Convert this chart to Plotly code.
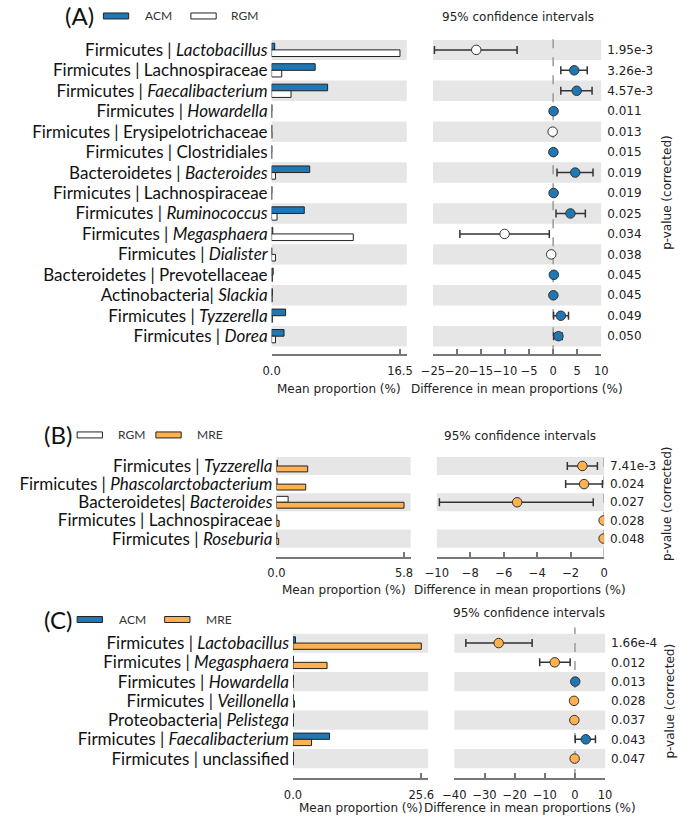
import plotly.graph_objects as go
from typing import List, Dict

W, H = 685, 817

ACM_COLOR = '#1f77b4'
RGM_COLOR = 'white'
MRE_COLOR = '#ffb04f'
BAND_COLOR = '#e6e6e6'
AXIS_COLOR = '#777777'
NUM_FONT = 'DejaVu Sans'
LABEL_FONT = 'Lato'

# ---- panel A: ACM vs RGM ----
A_labels = [
    "Firmicutes | <i>Lactobacillus</i>",
    "Firmicutes | Lachnospiraceae",
    "Firmicutes | <i>Faecalibacterium</i>",
    "Firmicutes | <i>Howardella</i>",
    "Firmicutes | Erysipelotrichaceae",
    "Firmicutes | Clostridiales",
    "Bacteroidetes | <i>Bacteroides</i>",
    "Firmicutes | Lachnospiraceae",
    "Firmicutes | <i>Ruminococcus</i>",
    "Firmicutes | <i>Megasphaera</i>",
    "Firmicutes | <i>Dialister</i>",
    "Bacteroidetes | Prevotellaceae",
    "Actinobacteria| <i>Slackia</i>",
    "Firmicutes | <i>Tyzzerella</i>",
    "Firmicutes | <i>Dorea</i>",
]
A_acm = [0.4, 5.6, 7.2, 0.05, 0.03, 0.04, 4.9, 0.05, 4.2, 0.15, 0.02, 0.2, 0.1, 1.8, 1.6]
A_rgm = [16.5, 1.3, 2.5, 0.02, 0.05, 0.02, 0.5, 0.02, 0.7, 10.5, 0.5, 0.1, 0.08, 0.1, 0.5]
A_diff = [-16.0, 4.4, 4.9, 0.1, -0.1, 0.05, 4.6, 0.1, 3.6, -10.1, -0.4, 0.15, 0.05, 1.6, 1.1]
A_lo = [-24.7, 1.6, 1.6, 0.05, -0.15, 0.0, 0.8, 0.05, 0.6, -19.4, -0.7, 0.1, 0.0, 0.1, 0.1]
A_hi = [-7.5, 7.1, 8.1, 0.15, -0.05, 0.1, 8.3, 0.15, 6.7, -0.8, -0.1, 0.2, 0.1, 3.2, 1.9]
A_p = ["1.95e-3", "3.26e-3", "4.57e-3", "0.011", "0.013", "0.015", "0.019", "0.019",
       "0.025", "0.034", "0.038", "0.045", "0.045", "0.049", "0.050"]
A_bar_ticks = [0.0, 16.5]
A_bar_ticktext = ["0.0", "16.5"]
A_ci_ticks = [-25, -20, -15, -10, -5, 0, 5, 10]

# ---- panel B: RGM vs MRE ----
B_labels = [
    "Firmicutes | <i>Tyzzerella</i>",
    "Firmicutes | <i>Phascolarctobacterium</i>",
    "Bacteroidetes| <i>Bacteroides</i>",
    "Firmicutes | Lachnospiraceae",
    "Firmicutes | <i>Roseburia</i>",
]
B_rgm = [0.05, 0.03, 0.53, 0.02, 0.02]
B_mre = [1.42, 1.33, 5.8, 0.12, 0.1]
B_diff = [-1.3, -1.2, -5.2, -0.03, -0.03]
B_lo = [-2.2, -2.3, -9.85, -0.05, -0.05]
B_hi = [-0.4, -0.1, -0.65, 0.0, 0.0]
B_p = ["7.41e-3", "0.024", "0.027", "0.028", "0.048"]
B_bar_ticks = [0.0, 5.8]
B_bar_ticktext = ["0.0", "5.8"]
B_ci_ticks = [-10, -8, -6, -4, -2, 0]

# ---- panel C: ACM vs MRE ----
C_labels = [
    "Firmicutes | <i>Lactobacillus</i>",
    "Firmicutes | <i>Megasphaera</i>",
    "Firmicutes | <i>Howardella</i>",
    "Firmicutes | <i>Veillonella</i>",
    "Proteobacteria| <i>Pelistega</i>",
    "Firmicutes | <i>Faecalibacterium</i>",
    "Firmicutes | unclassified",
]
C_acm = [0.5, 0.1, 0.1, 0.03, 0.1, 7.3, 0.1]
C_mre = [25.6, 6.8, 0.03, 0.3, 0.08, 3.7, 0.1]
C_diff = [-25.3, -6.7, 0.1, -0.3, -0.2, 3.6, -0.1]
C_lo = [-36.2, -11.7, 0.0, -0.4, -0.3, 0.1, -0.2]
C_hi = [-14.2, -1.6, 0.2, -0.2, -0.1, 6.8, 0.0]
C_p = ["1.66e-4", "0.012", "0.013", "0.028", "0.037", "0.043", "0.047"]
C_bar_ticks = [0.0, 25.6]
C_bar_ticktext = ["0.0", "25.6"]
C_ci_ticks = [-40, -30, -20, -10, 0, 10]


def px_x(px: float) -> float:
    return px / W


def px_y(py: float) -> float:
    return 1 - py / H


def minus(v: float) -> str:
    return str(v).replace('-', '\u2212')


def add_panel(fig: go.Figure, idx: int, tag: str, labels: List[str],
              g1: List[float], g2: List[float], names: List[str], colors: List[str],
              diff: List[float], lo: List[float], hi: List[float], pvals: List[str],
              bar_ticks: List[float], bar_ticktext: List[str], ci_ticks: List[int],
              geom: Dict, shapes: list, annotations: list, layout: dict) -> None:
    """Bar plot of mean proportions + CI plot of the differences, one panel."""
    n = len(labels)
    nb, nc = 2 * idx + 1, 2 * idx + 2
    xb, yb = f"x{nb}" if nb > 1 else "x", f"y{nb}" if nb > 1 else "y"
    xc, yc = f"x{nc}", f"y{nc}"
    rows = list(range(n))

    for vals, name, color in zip([g1, g2], names, colors):
        fig.add_trace(go.Bar(
            x=vals, y=rows, orientation='h', name=name,
            marker=dict(color=color, line=dict(color='#222222', width=1)),
            xaxis=xb, yaxis=yb, showlegend=False
        ))

    marker_colors = [colors[0] if d > 0 else colors[1] for d in diff]
    fig.add_trace(go.Scatter(
        x=diff, y=rows, mode='markers',
        marker=dict(size=9.5, color=marker_colors, line=dict(color='#333333', width=1)),
        error_x=dict(type='data', symmetric=False,
                     array=[h - d for h, d in zip(hi, diff)],
                     arrayminus=[d - l for d, l in zip(diff, lo)],
                     color='#333333', thickness=1.5, width=4),
        xaxis=xc, yaxis=yc, showlegend=False
    ))

    y_top, y_bot, row_h = geom['y_top'], geom['y_bot'], geom['row_h']
    yrange = [-0.5 + (y_bot - y_top) / row_h, -0.5]
    ydom = [px_y(y_bot), px_y(y_top)]

    xaxis_common = dict(showline=True, linecolor=AXIS_COLOR, linewidth=1.5,
                        ticks='inside', ticklen=5, tickcolor=AXIS_COLOR, tickwidth=1.5,
                        showgrid=False, zeroline=False, ticklabelstandoff=5, tickangle=0,
                        tickfont=dict(family=NUM_FONT, size=11.5, color='#222222'))

    layout[f"xaxis{nb if nb > 1 else ''}"] = dict(
        domain=[px_x(geom['bar_x'][0]), px_x(geom['bar_x'][1])],
        range=[0, geom['bar_max']], anchor=yb,
        tickvals=bar_ticks, ticktext=bar_ticktext, **xaxis_common)
    layout[f"yaxis{nb if nb > 1 else ''}"] = dict(
        domain=ydom, range=yrange, anchor=xb,
        tickvals=rows, ticktext=labels, showgrid=False, zeroline=False,
        showline=False, ticks='', ticklabelstandoff=3,
        tickfont=dict(family=LABEL_FONT, size=17, color='#111111'))
    layout[f"xaxis{nc}"] = dict(
        domain=[px_x(geom['ci_x'][0]), px_x(geom['ci_x'][1])],
        range=geom['ci_range'], anchor=yc,
        tickvals=ci_ticks, ticktext=[minus(t) for t in ci_ticks], **xaxis_common)
    layout[f"yaxis{nc}"] = dict(
        domain=ydom, range=yrange, anchor=xc, side='right',
        tickvals=rows, ticktext=pvals, showgrid=False, zeroline=False,
        showline=False, ticks='', ticklabelstandoff=5,
        tickfont=dict(family=NUM_FONT, size=12, color='#222222'))

    # alternating gray row bands
    for i in range(0, n, 2):
        for xr, yr in [(xb, yb), (xc, yc)]:
            shapes.append(dict(type='rect', xref=f"{xr} domain", yref=yr,
                               x0=0, x1=1, y0=i - 0.5, y1=i + 0.5,
                               fillcolor=BAND_COLOR, line=dict(width=0), layer='below'))
    # zero line
    shapes.append(dict(type='line', xref=xc, yref='paper', x0=0, x1=0,
                       y0=px_y(y_bot), y1=px_y(y_top - 6),
                       line=dict(color='#999999', width=1.5, dash='dash'), layer='below'))

    # panel tag and legend
    ly = geom['leg_y']
    annotations.append(dict(text=tag, x=px_x(geom['tag_x']), y=px_y(ly), xref='paper', yref='paper',
                            xanchor='left', yanchor='middle', showarrow=False,
                            font=dict(family=LABEL_FONT, size=24, color='#111111')))
    for (rx, tx), name, color in zip(geom['leg'], names, colors):
        shapes.append(dict(type='rect', xref='paper', yref='paper',
                           x0=px_x(rx), x1=px_x(rx + 26), y0=px_y(ly + 3), y1=px_y(ly - 3),
                           fillcolor=color, line=dict(color='#222222', width=1)))
        annotations.append(dict(text=name, x=px_x(tx), y=px_y(ly), xref='paper', yref='paper',
                                xanchor='left', yanchor='middle', showarrow=False,
                                font=dict(family=LABEL_FONT, size=12, color='#333333')))

    small = dict(family=NUM_FONT, size=12, color='#222222')
    annotations.append(dict(text='95% confidence intervals', x=px_x(geom['title_x']),
                            y=px_y(geom['title_y']), xref='paper', yref='paper',
                            xanchor='center', yanchor='middle', showarrow=False, font=small))
    bx0, bx1 = geom['bar_x']
    cx0, cx1 = geom['ci_x']
    annotations.append(dict(text='Mean proportion (%)', x=px_x((bx0 + bx1) / 2),
                            y=px_y(geom['xt_y']), xref='paper', yref='paper',
                            xanchor='center', yanchor='middle', showarrow=False, font=small))
    annotations.append(dict(text='Difference in mean proportions (%)', x=px_x((cx0 + cx1) / 2),
                            y=px_y(geom['xt_y']), xref='paper', yref='paper',
                            xanchor='center', yanchor='middle', showarrow=False, font=small))
    annotations.append(dict(text='p-value (corrected)', x=px_x(geom['pv_lab'][0]),
                            y=px_y(geom['pv_lab'][1]), xref='paper', yref='paper',
                            xanchor='center', yanchor='middle', textangle=-90,
                            showarrow=False, font=small))


fig = go.Figure()
shapes, annotations, layout = [], [], {}

add_panel(fig, 0, '(A)', A_labels, A_acm, A_rgm, ['ACM', 'RGM'], [ACM_COLOR, RGM_COLOR],
          A_diff, A_lo, A_hi, A_p, A_bar_ticks, A_bar_ticktext, A_ci_ticks,
          dict(y_top=37.75, y_bot=353, row_h=20.5, bar_x=(267, 406), bar_max=17.37,
               ci_x=(433, 606), ci_range=[-25, 10], leg_y=14, tag_x=52,
               leg=[(94, 135), (184, 223)], title_x=520, title_y=15, xt_y=388,
               pv_lab=(673, 191)),
          shapes, annotations, layout)

add_panel(fig, 1, '(B)', B_labels, B_rgm, B_mre, ['RGM', 'MRE'], [RGM_COLOR, MRE_COLOR],
          B_diff, B_lo, B_hi, B_p, B_bar_ticks, B_bar_ticktext, B_ci_ticks,
          dict(y_top=456, y_bot=556, row_h=18.2, bar_x=(272, 410), bar_max=6.1,
               ci_x=(437, 609), ci_range=[-10, 0], leg_y=434, tag_x=31,
               leg=[(67, 107), (148, 188)], title_x=523, title_y=435, xt_y=589,
               pv_lab=(673, 503)),
          shapes, annotations, layout)

add_panel(fig, 2, '(C)', C_labels, C_acm, C_mre, ['ACM', 'MRE'], [ACM_COLOR, MRE_COLOR],
          C_diff, C_lo, C_hi, C_p, C_bar_ticks, C_bar_ticktext, C_ci_ticks,
          dict(y_top=633, y_bot=778, row_h=19.3, bar_x=(289, 428), bar_max=26.96,
               ci_x=(455, 610), ci_range=[-40, 10], leg_y=619, tag_x=31,
               leg=[(67, 108), (157, 197)], title_x=532, title_y=612, xt_y=808,
               pv_lab=(677, 701)),
          shapes, annotations, layout)

fig.update_layout(
    width=W, height=H,
    margin=dict(l=0, r=0, t=0, b=0),
    paper_bgcolor='white', plot_bgcolor='rgba(0,0,0,0)',
    barmode='group', bargap=0.35, bargroupgap=0,
    showlegend=False,
    shapes=shapes, annotations=annotations,
    **layout
)

fig.write_html("out.html", config={'displayModeBar': False},
               post_script="document.body.style.margin='0';")
